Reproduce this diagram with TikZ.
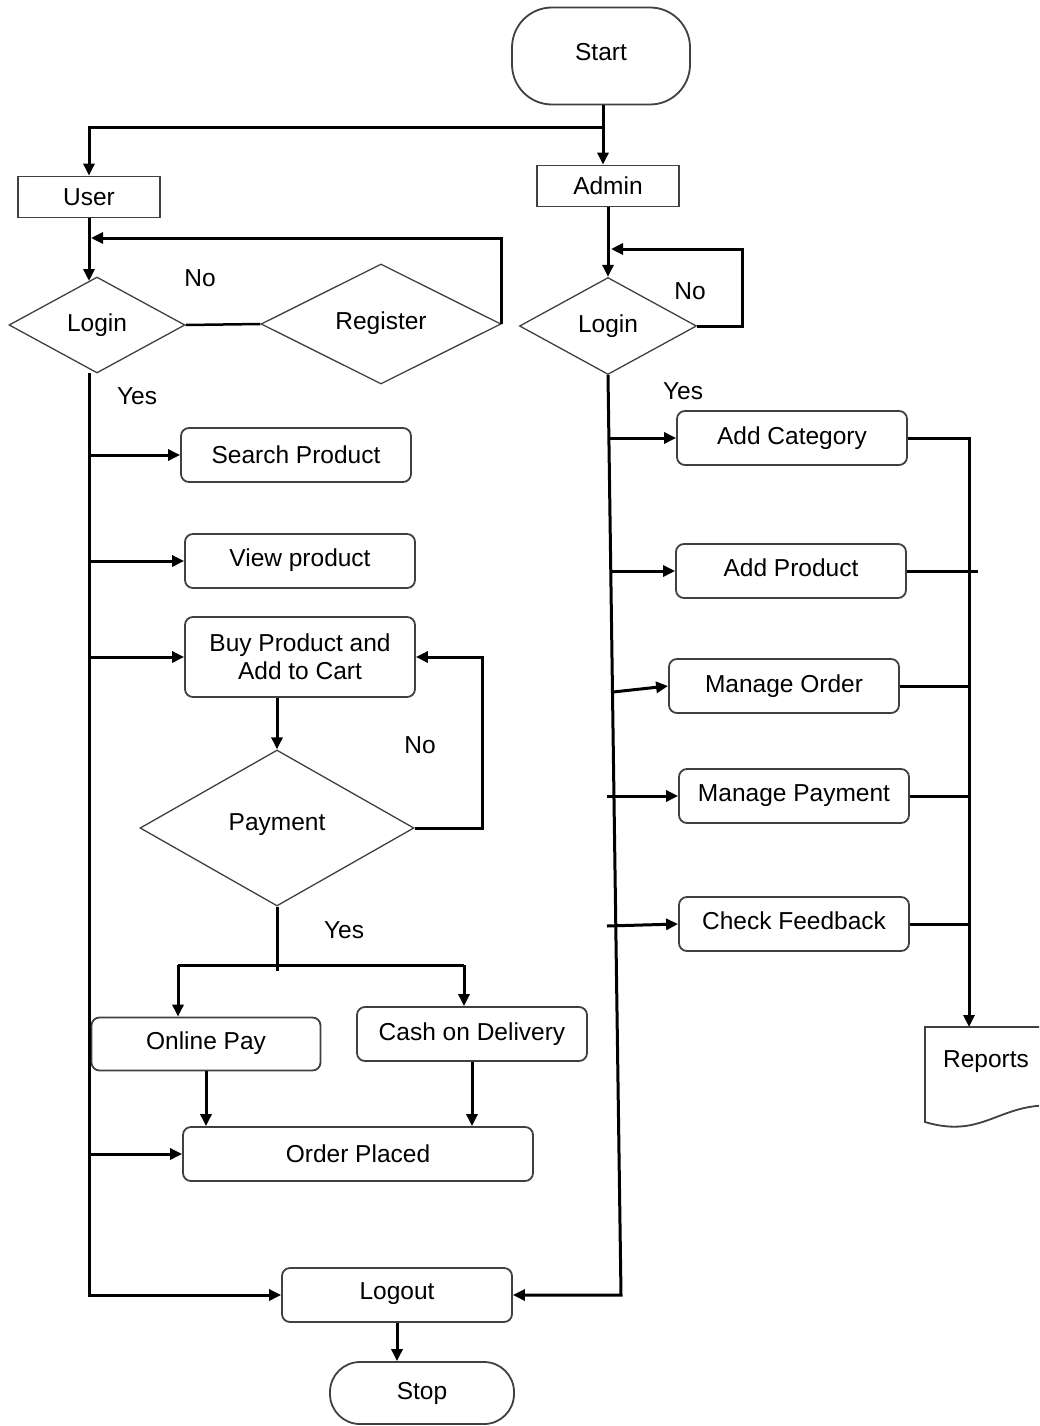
\documentclass[tikz,border=0pt]{standalone}
\usepackage{fontspec}
\setmainfont{Liberation Sans}
\usetikzlibrary{arrows.meta,shapes.geometric,calc}
\newcommand\myfs{\fontsize{24.5}{28}\selectfont}
\begin{document}
\begin{tikzpicture}[x=1pt,y=-1pt,
  box/.style={draw=black!75, line width=1.8pt, rounded corners=8pt, minimum width=230pt, minimum height=54pt, inner sep=0pt, align=center, font=\myfs},
  rectbox/.style={draw=black!75, line width=1.8pt, minimum width=142pt, minimum height=41pt, inner sep=0pt, font=\myfs},
  term/.style={draw=black!75, line width=1.8pt, inner sep=0pt, font=\myfs},
  dia/.style={diamond, draw=black!75, line width=1.3pt, inner sep=0pt, font=\myfs},
  conn/.style={line width=3pt, black},
  arr/.style={conn, -{Triangle[length=12pt,width=11pt]}},
  lbl/.style={font=\myfs, inner sep=0pt}]
\useasboundingbox (0,0) rectangle (1039,1426);
\fill[white] (0,0) rectangle (1039,1426);

% nodes
\node[term, rounded corners=40pt, minimum width=178pt, minimum height=97pt] (start) at (601,56) {\raisebox{8pt}{Start}};
\node[rectbox] (user) at (89,197) {User};
\node[rectbox] (admin) at (608,186) {Admin};
\node[dia, minimum width=176pt, minimum height=96pt] (ulogin) at (97,325) {Login};
\node[dia, minimum width=240pt, minimum height=120pt] (reg) at (381,324) {\raisebox{6pt}{Register}};
\node[dia, minimum width=177pt, minimum height=97pt] (alogin) at (608,326) {Login};

\node[box] (search) at (296,455) {Search Product};
\node[box] (view) at (300,561) {\raisebox{6pt}{View product}};
\node[box, minimum height=80pt] (buy) at (300,657) {Buy Product and\\Add to Cart};
\node[dia, minimum width=274pt, minimum height=156pt] (pay) at (277,828) {\raisebox{12pt}{Payment}};
\node[box, minimum width=229pt, minimum height=53pt] (online) at (206,1044) {\raisebox{6pt}{Online Pay}};
\node[box] (cod) at (472,1034) {\raisebox{4pt}{Cash on Delivery}};
\node[box, minimum width=350pt] (order) at (358,1154) {Order Placed};
\node[box] (logout) at (397,1295) {\raisebox{8pt}{Logout}};
\node[term, rounded corners=30pt, minimum width=184pt, minimum height=62pt] (stop) at (422,1393) {Stop};

\node[box] (addcat) at (792,438) {\raisebox{4pt}{Add Category}};
\node[box] (addprod) at (791,571) {\raisebox{6pt}{Add Product}};
\node[box] (mord) at (784,686) {Manage Order};
\node[box] (mpay) at (794,796) {Manage Payment};
\node[box] (feed) at (794,924) {\raisebox{6pt}{Check Feedback}};

% reports document shape
\begin{scope}
\clip (0,0) rectangle (1039,1426);
\draw[black!75, line width=1.8pt] (925,1027) -- (1060,1027) -- (1060,1106) .. controls (1000,1100) and (985,1140) .. (925,1122) -- cycle;
\end{scope}
\node[lbl] (rep) at (986,1062) {Reports};

% labels
\node[lbl] (no1) at (200,278) {No};
\node[lbl] (yes1) at (137,396) {Yes};
\node[lbl] (no2) at (690,291) {No};
\node[lbl] (yes2) at (683,391) {Yes};
\node[lbl] (no3) at (420,745) {No};
\node[lbl] (yes3) at (344,930) {Yes};

% start split
\coordinate (sj) at (603,128);
\draw[arr] (sj |- start.south) -- (sj |- admin.north);
\draw[arr] (sj) -- (sj -| user.north) -- (user.north);

% user side
\draw[arr] (user.south) -- (89,281);
\coordinate (ul) at (91,238);
\draw[arr] (reg.east) -- (reg.east |- ul) -- (ul);
\draw[conn, line width=2.5pt] (ulogin.east) -- (reg.west);

\coordinate (ut) at (89,373);
\coordinate (ub) at (89,1295);
\draw[arr] (ut) -- (ub) -- (logout.west);
\draw[arr] (ub |- search.west) -- (search.west);
\draw[arr] (ub |- view.west) -- (view.west);
\draw[arr] (ub |- buy.west) -- (buy.west);
\draw[arr] (ub |- order.west) -- (order.west);

\draw[arr] (pay.north |- buy.south) -- (pay.north);
\coordinate (pn) at (482,828);
\draw[arr] (pay.east) -- (pn) -- (pn |- buy.east) -- (buy.east);

\coordinate (pj) at (277,965);
\coordinate (pl) at (178,965);
\coordinate (pr) at (464,965);
\draw[conn] (pay.south) -- ($(pj)+(0,6)$);
\draw[conn] (pl) -- (pr);
\draw[arr] (pl) -- (pl |- online.north);
\draw[arr] (pr) -- (pr |- cod.north);
\draw[arr] (online.south) -- (online.south |- order.north);
\draw[arr] (cod.south) -- (cod.south |- order.north);
\draw[arr] (logout.south) -- (logout.south |- stop.north);

% admin side
\draw[arr] (admin.south) -- (alogin.north);
\coordinate (al) at (742,249);
\draw[arr] (alogin.east) -- (al |- alogin.east) -- (al) -- (611,249);
\coordinate (at) at (621,1295);
\draw[arr] (alogin.south) -- (at) -- (logout.east);
\draw[arr] (610,438) -- (addcat.west);
\draw[arr] (612,571) -- (addprod.west);
\draw[arr] (613,692) -- (mord.west);
\draw[arr] (607,796) -- (mpay.west);
\draw[arr] (607,926) -- (feed.west);

\coordinate (rc) at (969,437);
\draw[conn] (addcat.east) -- (addcat.east -| rc);
\draw[conn] (addprod.east) -- (978,571);
\draw[conn] (mord.east) -- (mord.east -| rc);
\draw[conn] (mpay.east) -- (mpay.east -| rc);
\draw[conn] (feed.east) -- (feed.east -| rc);
\draw[arr] (rc) -- (969,1027);
\end{tikzpicture}
\end{document}
